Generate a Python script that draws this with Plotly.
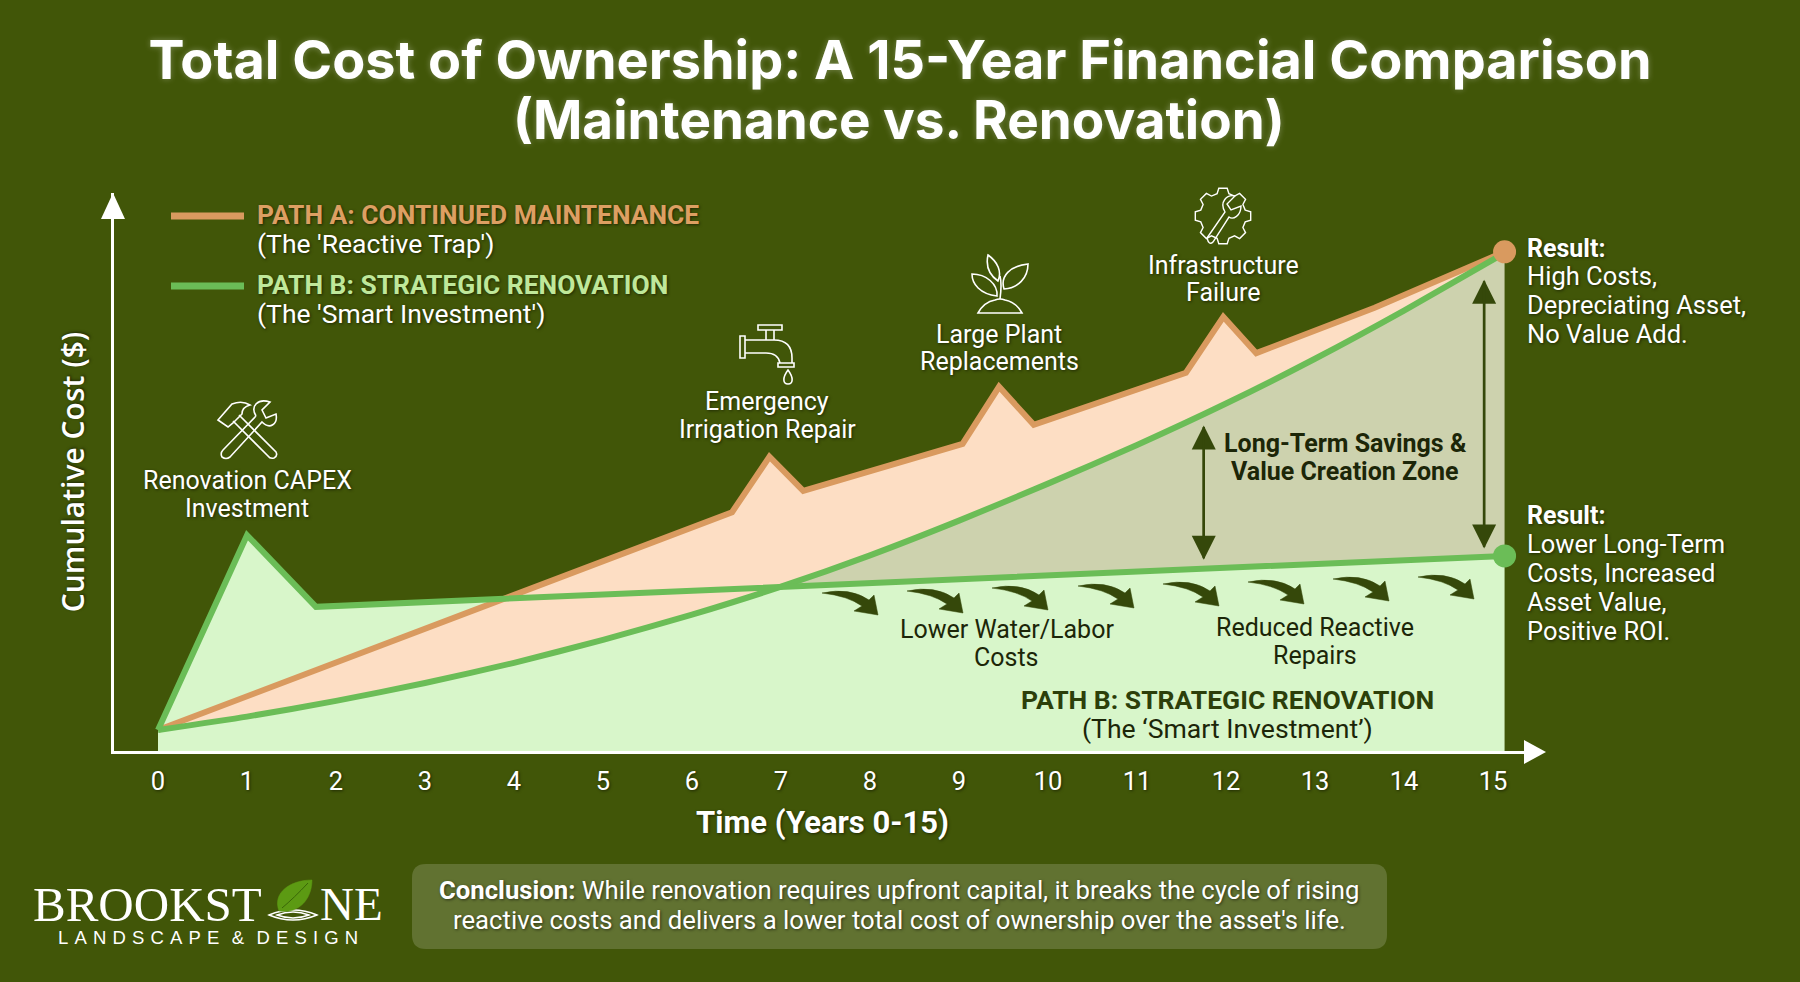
import math
import plotly.graph_objects as go

W = 1800
H = 982

# cumulative cost (no unit on the axis, 0-100 scale)
years = list(range(16))
path_a_x = [0, 6.45, 6.87, 7.25, 9.04, 9.45, 9.84, 11.55, 11.97, 12.34, 13.67, 15.13]
path_a_y = [4.1, 43.0, 52.9, 46.8, 55.2, 65.4, 58.6, 67.9, 77.9, 71.4, 79.5, 89.5]
curve_x = [0, 1, 2, 3, 4, 5, 6, 7, 8, 9, 10, 11, 12, 13, 14, 15, 15.13]
curve_y = [4.1, 6.5, 9.3, 12.5, 16.1, 20.2, 24.7, 29.7, 35.3, 41.5, 48.1, 55.0, 62.4, 70.4, 79.0, 88.1, 89.3]
path_b_x = [0, 1, 1.775, 7, 15.13]
path_b_y = [4.1, 38.9, 26.1, 29.7, 35.2]

BG = "#415608"
ORANGE = "#d99a5f"
GREEN = "#6bbd57"
DARK = "#35480a"
SANS = "Roboto"
SHADOW = "1px 1px 3px rgba(0,0,0,0.55)"


def px(x, y):
    return x / W, 1 - y / H


def shape_path(points_str, ox, oy, **kw):
    # small svg-like path given in pixels around (ox, oy), turned into paper coords
    out = points_str.replace(",", " ").split()
    res = []
    i = 0
    while i < len(out):
        t = out[i]
        if t in "MLQCZ":
            res.append(t)
            i += 1
        else:
            a, b = px(float(t) + ox, float(out[i + 1]) + oy)
            res.append(f"{a:.5f},{b:.5f}")
            i += 2
    return dict(type="path", path=" ".join(res), xref="paper", yref="paper", **kw)


annos = []
shapes = []


def label(lines, x, y0, dy, size=25, color="white", bold=False, anchor="center", shadow=SHADOW, family=SANS):
    for n, line in enumerate(lines):
        a, b = px(x, y0 + n * dy)
        text = f"<b>{line}</b>" if bold else line
        annos.append(dict(text=text, x=a, y=b, xref="paper", yref="paper", xanchor=anchor, yanchor="middle",
                          showarrow=False, font=dict(family=family, size=size, color=color, shadow=shadow)))


def icon(path, ox, oy, width=1.6, color="white", fill="rgba(0,0,0,0)"):
    shapes.append(shape_path(path, ox, oy, line=dict(color=color, width=width), fillcolor=fill, layer="above"))


fig = go.Figure()

# fills first
fig.add_trace(go.Scatter(x=path_b_x, y=path_b_y, mode="none", fill="tozeroy", fillcolor="#d8f6ca",
                         showlegend=False, hoverinfo="skip"))
fig.add_trace(go.Scatter(x=path_a_x + curve_x[::-1], y=path_a_y + curve_y[::-1], mode="none", fill="toself",
                         fillcolor="#fddec4", showlegend=False, hoverinfo="skip"))
tan_x = curve_x[7:] + path_b_x[::-1][:2]
tan_y = curve_y[7:] + path_b_y[::-1][:2]
fig.add_trace(go.Scatter(x=tan_x, y=tan_y, mode="none", fill="toself", fillcolor="#cdd2ae",
                         showlegend=False, hoverinfo="skip"))

fig.add_trace(go.Scatter(x=path_a_x, y=path_a_y, mode="lines", name="Path A", showlegend=False,
                         line=dict(color=ORANGE, width=6)))
fig.add_trace(go.Scatter(x=curve_x, y=curve_y, mode="lines", name="Path B (cost curve)", showlegend=False,
                         line=dict(color=GREEN, width=6, shape="spline", smoothing=0.6)))
fig.add_trace(go.Scatter(x=path_b_x, y=path_b_y, mode="lines", name="Path B", showlegend=False,
                         line=dict(color=GREEN, width=6)))
fig.add_trace(go.Scatter(x=path_a_x[-1:], y=path_a_y[-1:], mode="markers", showlegend=False,
                         marker=dict(color=ORANGE, size=23)))
fig.add_trace(go.Scatter(x=path_b_x[-1:], y=path_b_y[-1:], mode="markers", showlegend=False,
                         marker=dict(color=GREEN, size=23)))

# axis arrow heads
shapes.append(shape_path("M 0 -13 L 12 13 L -12 13 Z", 113, 206, line=dict(width=0), fillcolor="white", layer="above"))
shapes.append(shape_path("M 11 0 L -11 -12 L -11 12 Z", 1535, 752, line=dict(width=0), fillcolor="white", layer="above"))

# legend keys
for y, col in [(216, ORANGE), (286, GREEN)]:
    a0, b0 = px(171, y)
    a1, b1 = px(244, y)
    shapes.append(dict(type="line", x0=a0, x1=a1, y0=b0, y1=b1, xref="paper", yref="paper",
                       line=dict(color=col, width=7)))
label(["PATH A: CONTINUED MAINTENANCE"], 255, 215, 0, size=26.4, color="#dd9f62", bold=True, anchor="left")
label(["(The 'Reactive Trap')"], 255, 243, 0, size=26.5, anchor="left")
label(["PATH B: STRATEGIC RENOVATION"], 255, 285, 0, size=26.4, color="#bfe89a", bold=True, anchor="left")
label(["(The 'Smart Investment')"], 255, 313, 0, size=26.5, anchor="left")

# title second line (plotly's line height is too loose for the pair)
label(["(Maintenance vs. Renovation)"], 899, 120, 0, size=53, bold=True, family="Inter",
      shadow="0 0 6px rgba(255,255,255,0.3)")

# event labels
label(["Renovation CAPEX", "Investment"], 247, 481, 27)
label(["Emergency", "Irrigation Repair"], 767, 402, 28)
label(["Large Plant", "Replacements"], 999, 335, 27)
label(["Infrastructure", "Failure"], 1223, 265, 27)
label(["Long-Term Savings &", "Value Creation Zone"], 1345, 443, 28, color="#1c2608", bold=True, shadow="none")
label(["Lower Water/Labor", "Costs"], 1007, 629, 28, color="#1c2608", shadow="none")
label(["Reduced Reactive", "Repairs"], 1315, 627, 28, color="#1c2608", shadow="none")
label(["PATH B: STRATEGIC RENOVATION"], 1227, 699, 0, size=26.5, color="#2c3f0a", bold=True, shadow="none")
label(["(The ‘Smart Investment’)"], 1227, 728, 0, size=26.6, color="#1c2608", shadow="none")

# results
label(["Result:"], 1525, 248, 0, bold=True, anchor="left")
label(["High Costs,", "Depreciating Asset,", "No Value Add."], 1525, 276, 29, size=25.5, anchor="left")
label(["Result:"], 1525, 515, 0, bold=True, anchor="left")
label(["Lower Long-Term", "Costs, Increased", "Asset Value,", "Positive ROI."], 1525, 544, 29, size=25.5, anchor="left")

# double arrows in the savings zone
for x, y_lo, y_hi in [(11.75, 34.5, 58.5), (14.9, 36.5, 84.5)]:
    for start, end in [(y_lo, y_hi), (y_hi, y_lo)]:
        annos.append(dict(x=x, y=end, ax=x, ay=start, xref="x", yref="y", axref="x", ayref="y", text="",
                          showarrow=True, arrowhead=2, arrowsize=2.0, arrowwidth=2.4, arrowcolor=DARK))

# small curved arrows along the renovation line
arrow_tips = [(878, 615), (963, 613), (1048, 610), (1134, 608), (1219, 606), (1304, 604), (1389, 601), (1474, 599)]
for tx, ty in arrow_tips:
    icon("M -56 -22 Q -28 -28 -9 -15 L -4 -20 L 0 0 L -24 -4 L -16 -9 Q -30 -19 -56 -22 Z", tx, ty, width=0.5,
         color=DARK, fill=DARK)

# icons
icon("M -9 -15 L 28 22 Q 30 26 26 28 Q 22 29 20 26 L -15 -9", 248, 430)
icon("M -30 -10 L -16 -26 Q -6 -30 2 -25 Q -6 -23 -6 -16 L -15 -7 L -20 -3 Z", 248, 430)
icon("M 8 -14 C 2 -24 10 -32 22 -28 L 14 -20 L 18 -12 L 28 -16 C 30 -6 22 0 14 -8 L -18 27 Q -22 30 -26 27 Q -28 23 -25 20 L 8 -14", 248, 430)

# faucet
icon("M -28 -18 L -23 -18 L -23 4 L -28 4 Z", 768, 354)
icon("M -23 -14 L 6 -14 Q 24 -14 24 4 L 24 9 M -23 -1 L -2 -1 Q 10 -1 12 9", 768, 354)
icon("M 10 9 L 26 9 L 26 13 L 10 13 Z", 768, 354)
icon("M -2 -14 L -2 -24 L 6 -24 L 6 -14 M -10 -29 L 14 -29 L 14 -24 L -10 -24 Z", 768, 354)
icon("M 20 16 C 14 24 15 30 20 30 C 25 30 26 24 20 16 Z", 768, 354)

icon("M -22 29 L 22 29 Q 16 18 5 16 Q 0 14 -5 16 Q -16 18 -22 29 Z", 1000, 284)
icon("M 0 15 Q 2 0 0 -8", 1000, 284)
icon("M -2 -3 C -12 -10 -14 -20 -12 -29 C -2 -22 2 -12 -2 -3 Z", 1000, 284)
icon("M 4 5 C 0 -8 10 -18 28 -20 C 28 -6 18 4 4 5 Z", 1000, 284)
icon("M -3 12 C -20 10 -28 0 -28 -10 C -14 -10 -2 0 -3 12 Z", 1000, 284)

# gear outline for the infrastructure icon
gear = []
for k in range(8):
    t = 2 * math.pi * k / 8
    for r, dt in [(23, -0.26), (28, -0.15), (28, 0.15), (23, 0.26)]:
        gear.append(f"{r * math.cos(t + dt):.2f} {r * math.sin(t + dt):.2f}")
icon("M " + " L ".join(gear) + " Z", 1223, 216, width=1.4)
icon("M -16 22 L 2 -4 C -4 -14 4 -22 12 -20 L 4 -12 L 8 -6 L 18 -10 C 18 0 10 4 6 1 L -10 26 Q -14 30 -16 22 Z", 1223, 216, width=1.4)

# conclusion box
shapes.append(shape_path("M 426 864 L 1373 864 Q 1387 864 1387 878 L 1387 935 Q 1387 949 1373 949 L 426 949 "
                         "Q 412 949 412 935 L 412 878 Q 412 864 426 864 Z", 0, 0,
                         line=dict(width=0), fillcolor="rgba(255,255,255,0.17)", layer="below"))
label(["<b>Conclusion:</b> While renovation requires upfront capital, it breaks the cycle of rising",
       "reactive costs and delivers a lower total cost of ownership over the asset's life."], 899, 890, 30, size=25.7)

# logo
label(["BROOKST"], 264, 904, 0, size=49, anchor="right", family="Liberation Serif", shadow="none")
label(["NE"], 318, 904, 0, size=47, anchor="left", family="Liberation Serif", shadow="none")
label(["\u2004".join("LANDSCAPE") + "\u2004\u2004&\u2004\u2004" + "\u2004".join("DESIGN")], 208, 937, 0, size=18.5,
      family="Liberation Sans", shadow="none")
icon("M 269 915 Q 293 905 317 915 Q 293 925 269 915 Z", 0, 0, width=1.4)
icon("M 277 915 Q 293 909 309 915 Q 293 921 277 915 Z", 0, 0, width=1.4)
icon("M 279 911 C 272 893 290 880 312 880 C 312 898 300 914 279 911 Z", 0, 0, width=0.5, color="#5c9a13", fill="#5c9a13")
icon("M 282 908 Q 294 898 308 883", 0, 0, width=1, color="#3a6608")

fig.update_layout(
    width=W,
    height=H,
    autosize=False,
    margin=dict(l=0, r=0, t=0, b=0),
    paper_bgcolor=BG,
    plot_bgcolor=BG,
    showlegend=False,
    annotations=annos,
    shapes=shapes,
    title=dict(text="<b>Total Cost of Ownership: A 15-Year Financial Comparison</b>",
               x=0.5, xanchor="center", xref="paper", y=1 - 60 / H, yanchor="middle", yref="container",
               font=dict(family="Inter", size=54, color="white", shadow="0 0 6px rgba(255,255,255,0.3)")),
    xaxis=dict(domain=[114 / W, 1531 / W], range=[(114 - 158) / 89, (1531 - 158) / 89],
               tickmode="array", tickvals=years, ticktext=[str(v) for v in years], showgrid=False, zeroline=False,
               showline=True, linecolor="white", linewidth=3, ticks="", ticklabelstandoff=5,
               tickfont=dict(family=SANS, size=25.5, color="white", shadow=SHADOW),
               title=dict(text="<b>Time (Years 0-15)</b>", standoff=17,
                          font=dict(family=SANS, size=31, color="white", shadow=SHADOW))),
    yaxis=dict(domain=[1 - 751 / H, 1 - 193 / H], range=[2 / 5.6, 100], showticklabels=False, showgrid=False,
               zeroline=False, showline=True, linecolor="white", linewidth=3, ticks="",
               title=dict(text="Cumulative Cost ($)", standoff=18,
                          font=dict(family="Open Sans", size=30, weight=600, color="white", shadow=SHADOW))),
)

fig.write_html("out.html", config={"displayModeBar": False},
               post_script="document.body.style.margin='0';document.documentElement.style.overflow='hidden';")
